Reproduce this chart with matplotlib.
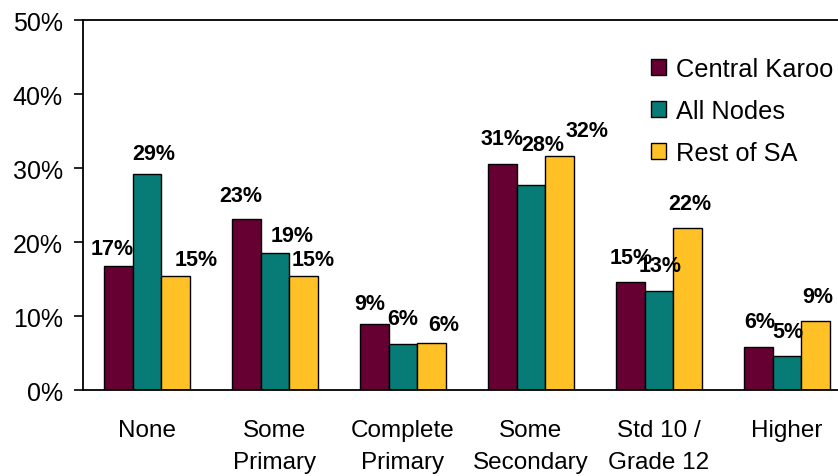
import numpy as np
import matplotlib
matplotlib.use("Agg")
import matplotlib.pyplot as plt
from matplotlib.ticker import FuncFormatter

categories = ["None", "Some\nPrimary", "Complete\nPrimary", "Some\nSecondary",
              "Std 10 /\nGrade 12", "Higher"]
series = ["Central Karoo", "All Nodes", "Rest of SA"]
central_karoo = [16.8, 23.2, 9.0, 30.6, 14.6, 5.9]
all_nodes = [29.2, 18.6, 6.2, 27.8, 13.4, 4.6]
rest_of_sa = [15.4, 15.4, 6.4, 31.6, 21.9, 9.3]

colors = ["#660032", "#077B75", "#FFC126"]

# label nudges in pixels: horizontal shift and gap between bar top and text baseline
label_dx = [[-6, -6, -5, 0, 1, 1],
            [7, 17, 0, 12, 1, 1],
            [21, 10, 12, 27, 2, 2]]
label_gap = [[11.6, 17.6, 15, 19.7, 19, 19.7],
             [15, 11.6, 20.7, 35, 19.7, 19.7],
             [11, 11, 13.3, 20, 19.7, 19.3]]

plt.rcParams["font.family"] = ["Liberation Sans", "DejaVu Sans"]

fig = plt.figure(figsize=(8.38, 4.77), dpi=100)
ax = fig.add_axes([83 / 838, 1 - 391.3 / 477, 768 / 838, 370 / 477])

x = np.arange(len(categories))
w = 0.224
data = [central_karoo, all_nodes, rest_of_sa]
for i, (name, vals) in enumerate(zip(series, data)):
    pos = x + (i - 1) * w
    ax.bar(pos, vals, w, color=colors[i], edgecolor="black", linewidth=1.0,
           label=name, zorder=2)
    for j, v in enumerate(vals):
        ax.annotate(f"{v:.0f}%", (pos[j], v), xytext=(label_dx[i][j], label_gap[i][j]),
                    textcoords="offset pixels", ha="center", va="baseline",
                    fontsize=15.5, fontweight="bold")

ax.set_xlim(-0.5, len(categories) - 0.5)
ax.set_ylim(0, 50)
ax.set_yticks(range(0, 51, 10))
ax.yaxis.set_major_formatter(FuncFormatter(lambda v, p: f"{v:.0f}%"))
ax.tick_params(axis="y", length=6.5, width=1.2, pad=8, labelsize=18)
ax.set_xticks(x)
ax.set_xticklabels(categories, fontsize=17.5, linespacing=1.58)
ax.tick_params(axis="x", length=0, pad=20.5)

for s in ["left", "top", "bottom"]:
    ax.spines[s].set_linewidth(1.3)
ax.spines["right"].set_visible(False)

leg = ax.legend(loc="upper left", bbox_to_anchor=(651 / 838, 1 - 58 / 477),
                bbox_transform=fig.transFigure, frameon=False, fontsize=18.3,
                handlelength=0.6, handleheight=0.6, handletextpad=0.4,
                labelspacing=0.7, borderpad=0, borderaxespad=0)
for h in leg.legend_handles:
    h.set_edgecolor("black")
    h.set_linewidth(1.0)

fig.savefig("out.png", dpi=100)
